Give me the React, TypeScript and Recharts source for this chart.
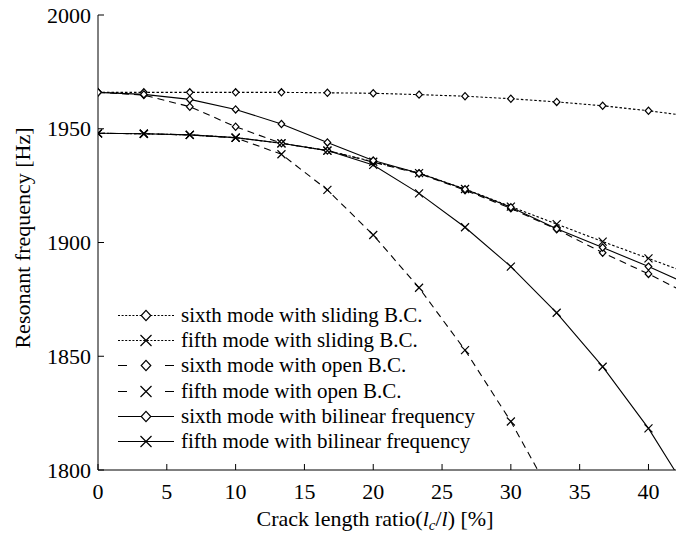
import React from "react";
import { LineChart, Line, XAxis, YAxis, Legend } from "recharts";

const FONT = "Liberation Serif, DejaVu Serif, Times New Roman, serif";

// crack length ratio [%] of each computed point (last one lies past the axis end)
const crackRatio = [0, 3.33, 6.67, 10, 13.33, 16.67, 20, 23.33, 26.67, 30, 33.33, 36.67, 40, 43.33];

const sixthSliding = [1966, 1966, 1966, 1966, 1966, 1965.8, 1965.6, 1965.0, 1964.3, 1963.2, 1961.8, 1960.1, 1957.9, 1955.3];
const fifthSliding = [1948, 1947.8, 1947.3, 1946.1, 1943.6, 1940.4, 1935.5, 1930.5, 1923.5, 1915.8, 1908.1, 1900.4, 1893.0, 1885.5];
const sixthOpen = [1966, 1964.8, 1959.7, 1950.9, 1943.6, 1940.4, 1935.3, 1930.3, 1923.0, 1915.0, 1905.8, 1895.5, 1886.2, 1876];
const fifthOpen = [1948, 1947.8, 1947.3, 1946.0, 1938.8, 1923.1, 1903.3, 1880.1, 1852.7, 1821.3, 1785];
const sixthBilinear = [1966, 1965.1, 1962.9, 1958.5, 1952.1, 1944.0, 1936.0, 1930.4, 1923.4, 1915.5, 1906.0, 1897.8, 1889.4, 1880.5];
const fifthBilinear = [1948, 1947.8, 1947.3, 1946.1, 1943.6, 1940.4, 1934.1, 1921.6, 1906.7, 1889.4, 1869.1, 1845.4, 1818.3, 1786];

const xTicks = [0, 5, 10, 15, 20, 25, 30, 35, 40];
const yTicks = [1800, 1850, 1900, 1950, 2000];

type Marker = "diamond" | "cross";

const series: {
  key: string;
  name: string;
  values: number[];
  dash?: string;
  legendDash?: string;
  marker: Marker;
}[] = [
  { key: "sixthSliding", name: "sixth mode with sliding B.C.", values: sixthSliding, dash: "2.5 2", legendDash: "2 1.6", marker: "diamond" },
  { key: "fifthSliding", name: "fifth mode with sliding B.C.", values: fifthSliding, dash: "2.5 2", legendDash: "2 1.6", marker: "cross" },
  { key: "sixthOpen", name: "sixth mode with open B.C.", values: sixthOpen, dash: "7 5", legendDash: "9 38", marker: "diamond" },
  { key: "fifthOpen", name: "fifth mode with open B.C.", values: fifthOpen, dash: "7 5", legendDash: "9 38", marker: "cross" },
  { key: "sixthBilinear", name: "sixth mode with bilinear frequency", values: sixthBilinear, marker: "diamond" },
  { key: "fifthBilinear", name: "fifth mode with bilinear frequency", values: fifthBilinear, marker: "cross" },
];

const data = crackRatio.map((x, i) => {
  const row: Record<string, number | null> = { x };
  series.forEach((s) => {
    row[s.key] = s.values[i] ?? null;
  });
  return row;
});

const markerShape = (kind: Marker, cx: number, cy: number, big: boolean, key?: any) => {
  if (kind === "diamond") {
    const w = big ? 4.8 : 3.3;
    const h = big ? 5.2 : 3.6;
    return (
      <path
        key={key}
        d={`M${cx} ${cy - h}L${cx + w} ${cy}L${cx} ${cy + h}L${cx - w} ${cy}Z`}
        fill="#fff"
        stroke="#000"
        strokeWidth={1.2}
      />
    );
  }
  const r = big ? 5.5 : 4;
  return (
    <path
      key={key}
      d={`M${cx - r} ${cy - r}L${cx + r} ${cy + r}M${cx - r} ${cy + r}L${cx + r} ${cy - r}`}
      fill="none"
      stroke="#000"
      strokeWidth={1.2}
    />
  );
};

const makeDot = (kind: Marker) => (props: any) => {
  const { cx, cy, index } = props;
  if (cx == null || cy == null || isNaN(cy)) return <g key={index} />;
  return markerShape(kind, cx, cy, false, index);
};

const BottomTick = (props: any) => {
  const { x, y, payload } = props;
  return (
    <g>
      <line x1={x} y1={y} x2={x} y2={y - 6} stroke="#000" />
      <text x={x} y={y + 29} textAnchor="middle" style={{ fontFamily: FONT }} fontSize={22} fill="#000">
        {payload.value}
      </text>
    </g>
  );
};

const TopTick = (props: any) => {
  const { x, y } = props;
  return <line x1={x} y1={y} x2={x} y2={y + 6} stroke="#000" />;
};

const LeftTick = (props: any) => {
  const { x, y, payload } = props;
  return (
    <g>
      <line x1={x} y1={y} x2={x + 6} y2={y} stroke="#000" />
      <text x={x - 7} y={y + 7.5} textAnchor="end" style={{ fontFamily: FONT }} fontSize={22} fill="#000">
        {payload.value}
      </text>
    </g>
  );
};

const RightTick = (props: any) => {
  const { x, y } = props;
  return <line x1={x} y1={y} x2={x - 6} y2={y} stroke="#000" />;
};

const renderYLabel = () => (
  <text
    x={23}
    y={245}
    transform="rotate(-90 23 238)"
    textAnchor="middle"
    style={{ fontFamily: FONT }}
    fontSize={22}
    fill="#000"
  >
    Resonant frequency [Hz]
  </text>
);

const renderXLabel = () => (
  <text x={375} y={526} textAnchor="middle" style={{ fontFamily: FONT }} fontSize={22} fill="#000">
    Crack length ratio(<tspan fontStyle="italic">l</tspan>
    <tspan fontStyle="italic" fontSize={15} dy={4}>c</tspan>
    <tspan dy={-4}>/</tspan>
    <tspan fontStyle="italic">l</tspan>) [%]
  </text>
);

const renderLegend = () => (
  <div style={{ fontFamily: FONT, fontSize: 21, color: "#000" }}>
    {series.map((s) => (
      <div key={s.key} style={{ display: "flex", alignItems: "center", height: 25.2 }}>
        <svg width={56} height={25} style={{ display: "block" }}>
          <line
            x1={0}
            y1={12.5}
            x2={56}
            y2={12.5}
            stroke="#000"
            strokeWidth={1.1}
            strokeDasharray={s.legendDash}
          />
          {markerShape(s.marker, 28, 12.5, true)}
        </svg>
        <span style={{ marginLeft: 7, whiteSpace: "nowrap", lineHeight: "25px" }}>{s.name}</span>
      </div>
    ))}
  </div>
);

export default function App() {
  return (
    <div style={{ position: "absolute", left: 0, top: 0 }}>
      <LineChart
        width={677}
        height={533}
        data={data}
        margin={{ top: 15, right: 1, left: 0, bottom: 0 }}
      >
        <XAxis
          dataKey="x"
          type="number"
          domain={[0, 42]}
          ticks={xTicks}
          allowDataOverflow
          height={63}
          tickSize={0}
          tickMargin={0}
          tickLine={false}
          axisLine={{ stroke: "#000" }}
          tick={<BottomTick />}
          interval={0}
          label={renderXLabel}
        />
        <XAxis
          xAxisId="top"
          orientation="top"
          type="number"
          domain={[0, 42]}
          ticks={xTicks}
          allowDataOverflow
          height={0}
          tickSize={0}
          tickMargin={0}
          tickLine={false}
          axisLine={{ stroke: "#000" }}
          tick={<TopTick />}
          interval={0}
        />
        <YAxis
          type="number"
          domain={[1800, 2000]}
          ticks={yTicks}
          allowDataOverflow
          width={98}
          tickSize={0}
          tickMargin={0}
          tickLine={false}
          axisLine={{ stroke: "#000" }}
          tick={<LeftTick />}
          interval={0}
          label={renderYLabel}
        />
        <YAxis
          yAxisId="right"
          orientation="right"
          type="number"
          domain={[1800, 2000]}
          ticks={yTicks}
          allowDataOverflow
          width={0}
          tickSize={0}
          tickMargin={0}
          tickLine={false}
          axisLine={{ stroke: "#000" }}
          tick={<RightTick />}
          interval={0}
        />
        <Legend
          layout="horizontal"
          verticalAlign="middle"
          align="center"
          content={renderLegend}
          wrapperStyle={{ left: 118, top: 303, width: "auto", height: "auto" }}
        />
        {series.map((s) => (
          <Line
            key={s.key}
            dataKey={s.key}
            name={s.name}
            type="linear"
            stroke="#000"
            strokeWidth={1.1}
            strokeDasharray={s.dash}
            dot={makeDot(s.marker)}
            activeDot={false}
            isAnimationActive={false}
            connectNulls={false}
          />
        ))}
      </LineChart>
    </div>
  );
}
